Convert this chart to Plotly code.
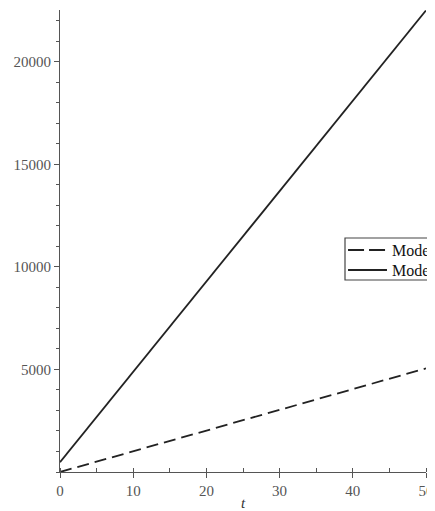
import plotly.graph_objects as go

t_values = [0, 50]
model1 = [0, 5050]
model2 = [480, 22500]
series_names = ["Model 1", "Model 2"]
series_dash = ["12px,6px", "solid"]
x_ticks = [0, 10, 20, 30, 40, 50]
y_ticks = [5000, 10000, 15000, 20000]
y_tick_labels = ["5000", "10000", "15000", "20000"]

fig = go.Figure()
for name, vals, dash in zip(series_names, [model1, model2], series_dash):
    fig.add_trace(go.Scatter(x=t_values, y=vals, mode="lines", name=name,
                             line=dict(color="#222", width=1.8, dash=dash)))

# Boxed legend at the right, running off the page edge as in the reference
box_x0, box_y0, box_y1 = 0.7787, 0.4156, 0.5065
sample_x0, sample_x1, text_x = 0.787, 0.8934, 0.9016
row_y = [0.4805, 0.4372]
shapes = [dict(type="rect", xref="paper", yref="paper", x0=box_x0, x1=1.3,
               y0=box_y0, y1=box_y1, line=dict(color="#444", width=1.2),
               fillcolor="white", layer="above")]
annotations = []
for name, dash, y in zip(series_names, series_dash, row_y):
    shapes.append(dict(type="line", xref="paper", yref="paper", x0=sample_x0, x1=sample_x1,
                       y0=y, y1=y, line=dict(color="#222", width=1.8,
                                             dash="16px,5px" if dash != "solid" else "solid"),
                       layer="above"))
    annotations.append(dict(xref="paper", yref="paper", x=text_x, y=y, text=name,
                            showarrow=False, xanchor="left", yanchor="middle",
                            font=dict(family="Liberation Serif", size=16, color="#111")))

axis_font = dict(family="Liberation Serif", size=15, color="#555")
# The page body has an 8px margin, so the figure is offset accordingly.
fig.update_layout(
    width=427, height=503,
    margin=dict(l=52, r=9, t=2, b=39, autoexpand=False),
    plot_bgcolor="white", paper_bgcolor="white",
    showlegend=False,
    shapes=shapes, annotations=annotations,
    xaxis=dict(range=[0, 50], tickvals=x_ticks, showgrid=False, zeroline=False,
               showline=True, linecolor="#555", linewidth=1.2,
               ticks="outside", ticklen=5, tickcolor="#555", tickfont=axis_font,
               minor=dict(dtick=5, ticks="inside", ticklen=4, tickcolor="#555"),
               title=dict(text="<i>t</i>", font=dict(family="Liberation Serif", size=15, color="#333"), standoff=11)),
    yaxis=dict(range=[0, 22520], tickvals=y_ticks, ticktext=y_tick_labels,
               showgrid=False, zeroline=False,
               showline=True, linecolor="#555", linewidth=1.2,
               ticks="outside", ticklen=5, tickcolor="#555", tickfont=axis_font,
               minor=dict(dtick=1000, ticks="outside", ticklen=3, tickcolor="#555")),
)

fig.write_html("out.html")
